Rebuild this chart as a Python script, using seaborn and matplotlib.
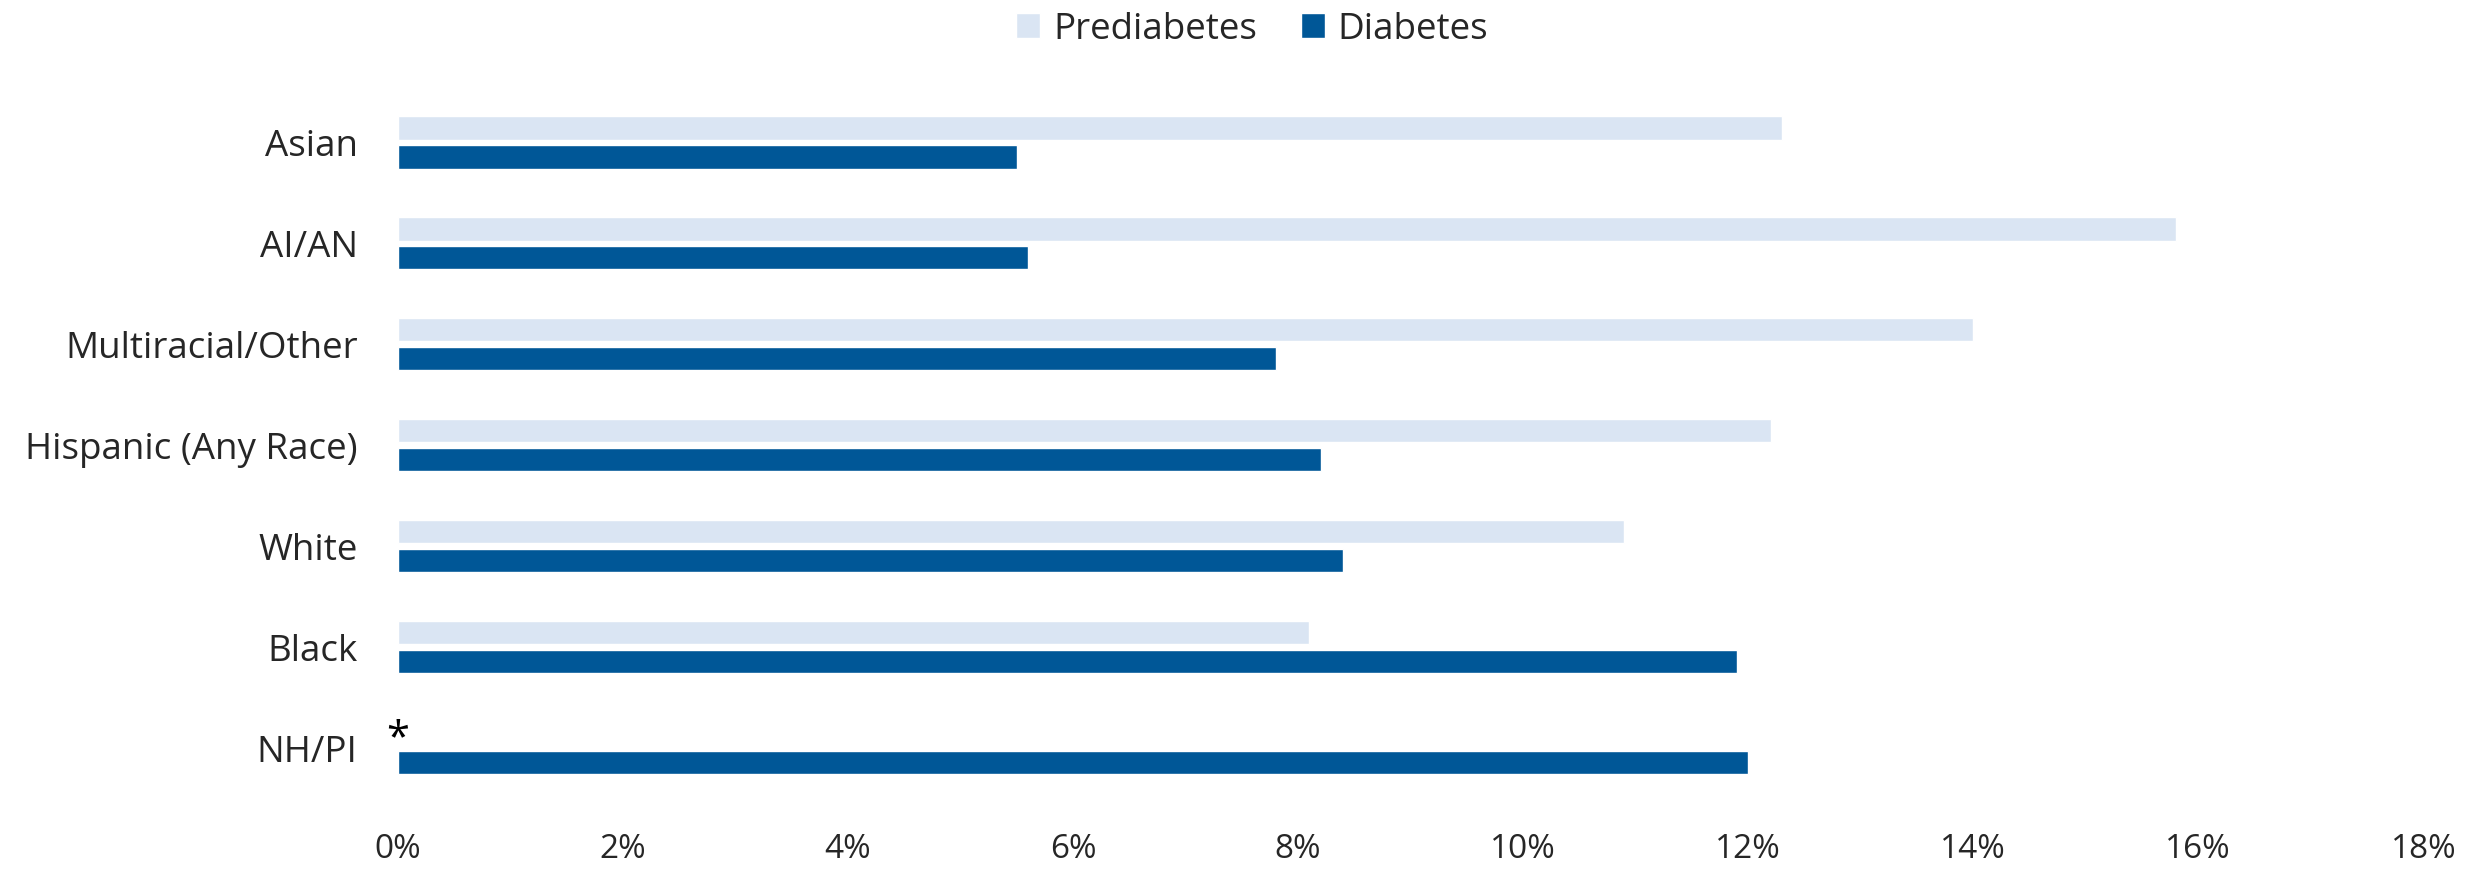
import matplotlib
matplotlib.use("Agg")
import matplotlib.pyplot as plt
from matplotlib.ticker import PercentFormatter
import seaborn as sns
import numpy as np
import pandas as pd

# chart values (percent)
groups = ["Asian", "AI/AN", "Multiracial/Other", "Hispanic (Any Race)", "White", "Black", "NH/PI"]
prediabetes = [12.3, 15.8, 14.0, 12.2, 10.9, 8.1, np.nan]
diabetes = [5.5, 5.6, 7.8, 8.2, 8.4, 11.9, 12.0]
series_names = ["Prediabetes", "Diabetes"]
x_ticks = list(range(0, 19, 2))

light_blue = "#DAE5F3"
dark_blue = "#005797"

rows = []
for g, p, d in zip(groups, prediabetes, diabetes):
    if not np.isnan(p):
        rows.append({"group": g, "status": series_names[0], "pct": p})
    rows.append({"group": g, "status": series_names[1], "pct": d})
df = pd.DataFrame(rows)

sns.set_theme(style="white")
plt.rcParams["font.family"] = ["Open Sans", "DejaVu Sans"]

fig = plt.figure(figsize=(24.7, 8.73), dpi=100)
ax = fig.add_axes([0.1611, 0.0853, 0.8200, 0.8093])

sns.barplot(data=df, y="group", x="pct", hue="status", order=groups,
            hue_order=series_names, palette=[light_blue, dark_blue], saturation=1,
            orient="h", errorbar=None, width=0.574, gap=0.2, ax=ax)

# missing value marker for NH/PI prediabetes
missing_idx = groups.index("NH/PI")
ax.text(0, missing_idx + 0.02, "*", ha="center", va="baseline", fontsize=30,
        color="black")

ax.set_xlim(0, 18)
ax.set_xticks(x_ticks)
ax.xaxis.set_major_formatter(PercentFormatter(decimals=0))
ax.set_xlabel("")
ax.set_ylabel("")
ax.tick_params(axis="x", labelsize=24, length=0, pad=25)
ax.tick_params(axis="y", labelsize=26.5, length=0, pad=29)
for s in ax.spines.values():
    s.set_visible(False)
ax.grid(False)

handles, labels = ax.get_legend_handles_labels()
if ax.legend_:
    ax.legend_.remove()
fig.legend(handles, labels, loc="center", bbox_to_anchor=(0.507, 0.966), ncol=2,
           frameon=False, fontsize=26.5, handlelength=0.65, handleheight=0.65,
           handletextpad=0.35, columnspacing=1.2)

fig.savefig("out.png", dpi=100)
